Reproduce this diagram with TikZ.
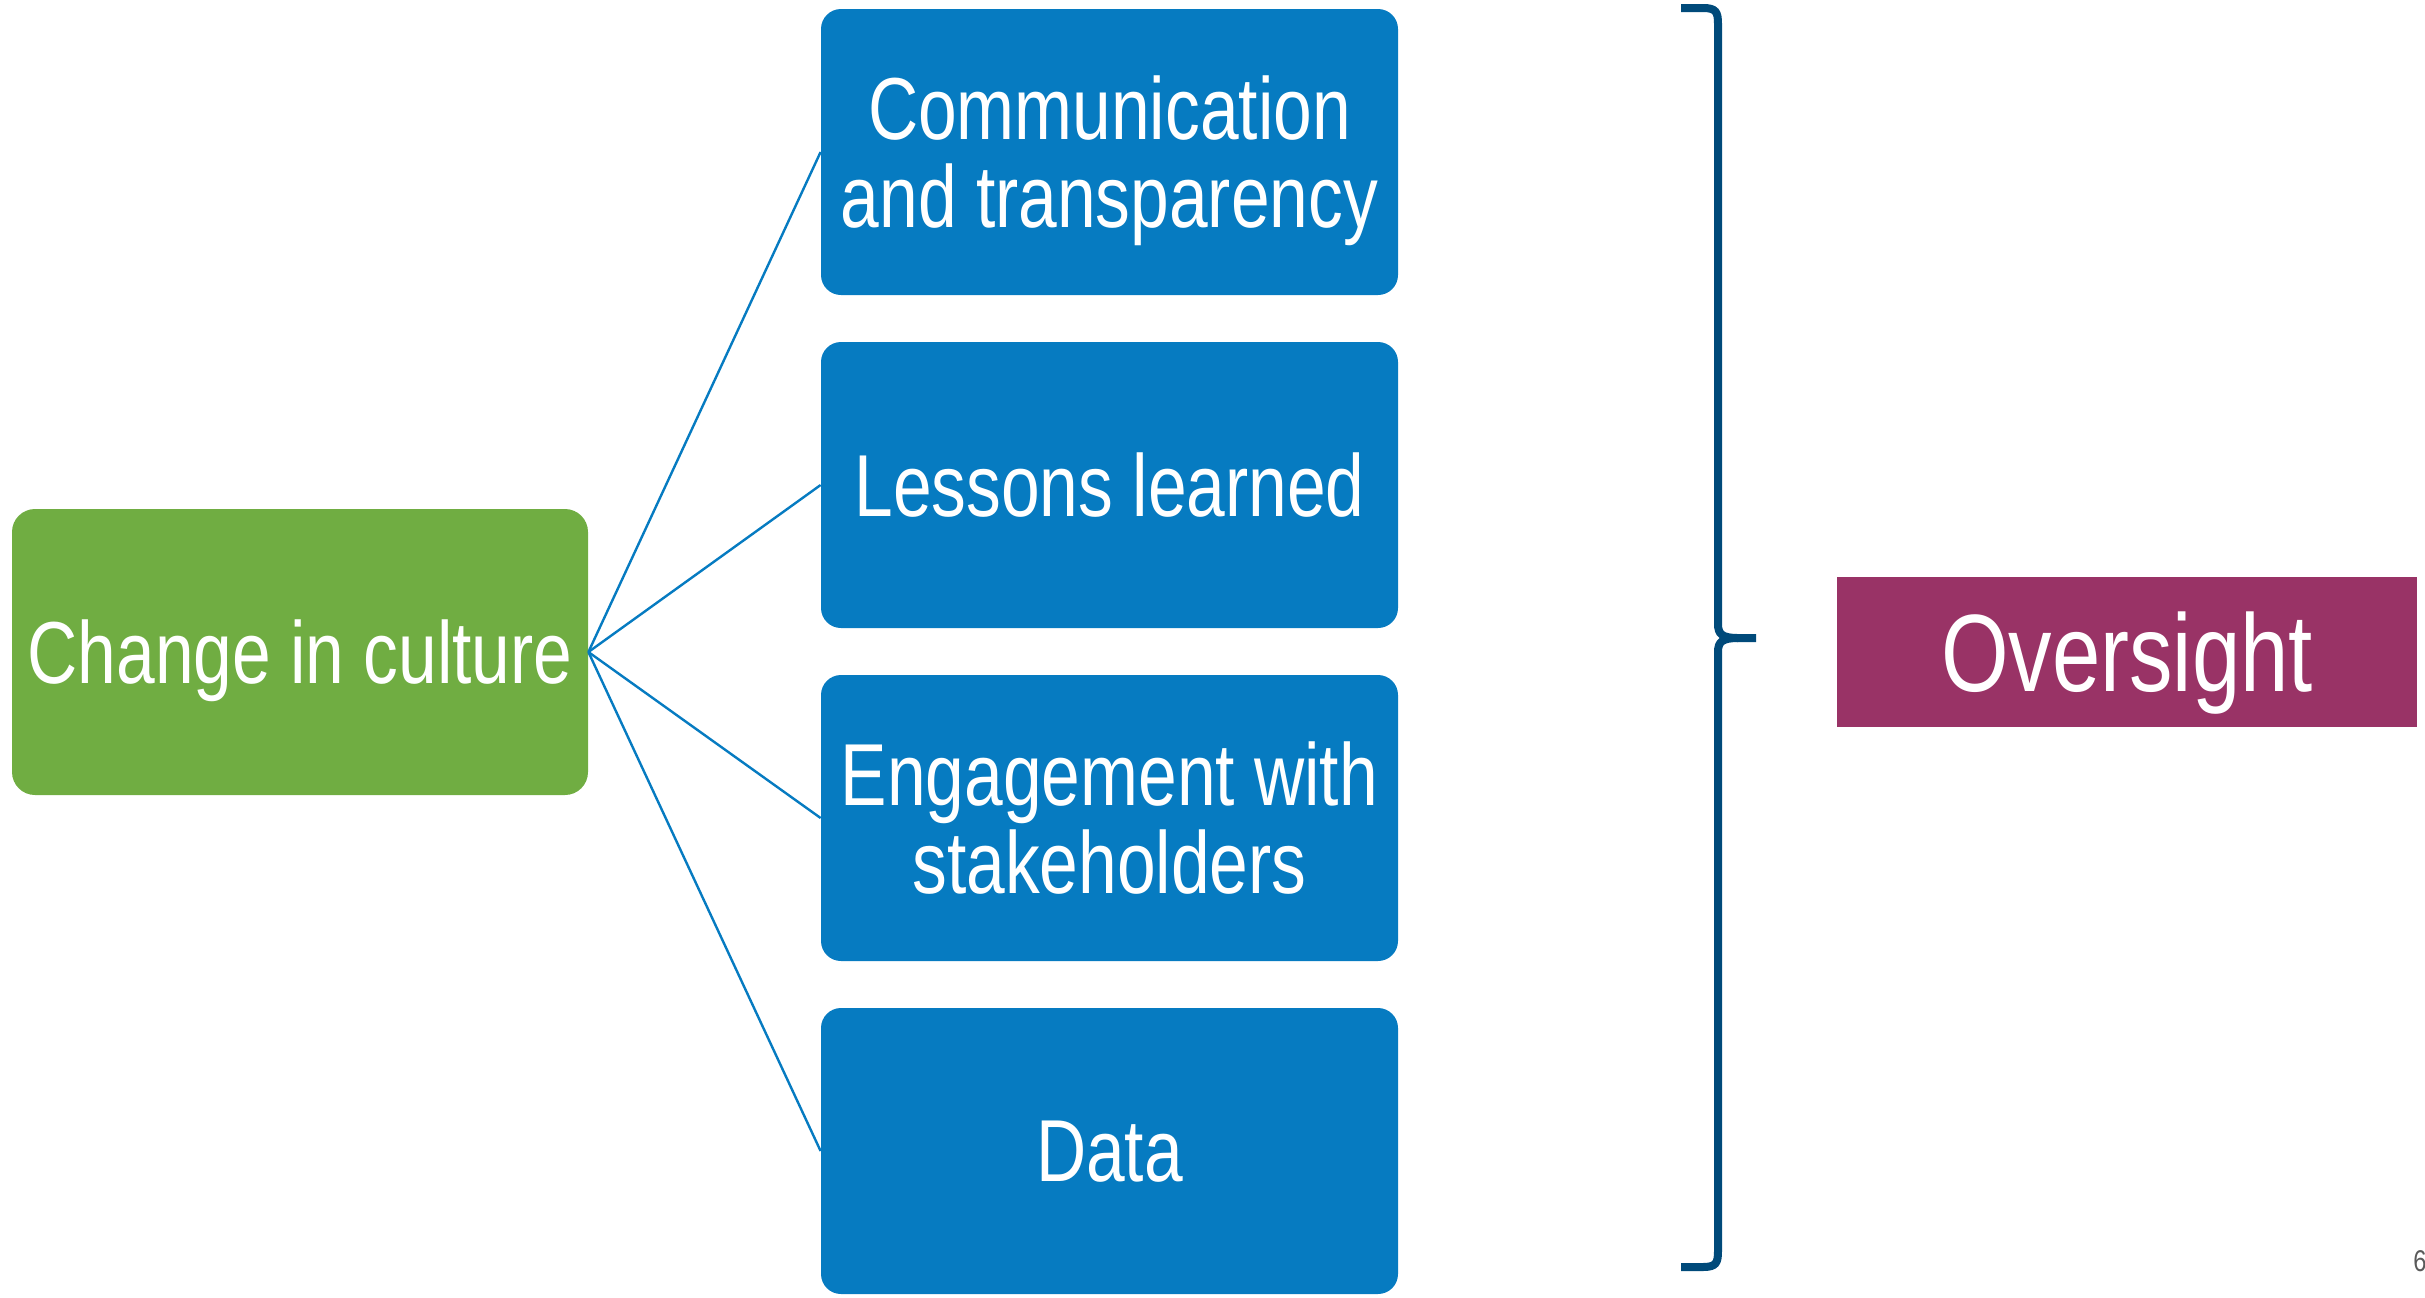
\documentclass[tikz,border=0pt]{standalone}
\usepackage{fontspec}
\setmainfont{Liberation Sans}[FakeStretch=0.79]
\definecolor{boxblue}{RGB}{6,123,193}
\definecolor{boxgreen}{RGB}{112,173,66}
\definecolor{ovpurple}{RGB}{153,51,102}
\definecolor{bracenavy}{RGB}{0,74,122}
\definecolor{pagegray}{RGB}{90,90,90}
\begin{document}
\begin{tikzpicture}[x=0.5pt,y=-0.5pt,
  bigtext/.style={font=\fontsize{44}{44}\selectfont, text=white, align=center, inner sep=0pt, text depth=0pt},
  greenbox/.style={bigtext, fill=boxgreen, rounded corners=11.5pt, minimum width=288pt, minimum height=143pt},
  bluebox/.style={bigtext, fill=boxblue, rounded corners=10pt, minimum width=288.5pt, minimum height=143pt},
  link/.style={draw=boxblue, line width=1.2pt},
  bracestyle/.style={draw=bracenavy, line width=4pt},
  ovbox/.style={fill=ovpurple, text=white, font=\fontsize{55}{55}\selectfont, minimum width=290pt, minimum height=75pt, inner sep=0pt, text depth=0pt}]
\useasboundingbox (0,0) rectangle (2425,1297);

\node[greenbox] (culture) at (300,652) {Change in culture};
\node[bluebox] (comm) at (1109.5,152) {Communication\\and transparency};
\node[bluebox] (lessons) at (1109.5,485) {Lessons learned};
\node[bluebox] (engage) at (1109.5,818) {Engagement with\\stakeholders};
\node[bluebox] (data) at (1109.5,1151) {Data};

\draw[link] (culture.east) -- (comm.west);
\draw[link] (culture.east) -- (lessons.west);
\draw[link] (culture.east) -- (engage.west);
\draw[link] (culture.east) -- (data.west);

\draw[bracestyle] (1681,8) -- (1703,8) .. controls (1716,8) and (1718,12) .. (1718,24)
  -- (1718,624) .. controls (1718,634) and (1722,638) .. (1738,638) -- (1756,638);
\draw[bracestyle] (1681,1267) -- (1703,1267) .. controls (1716,1267) and (1718,1263) .. (1718,1251)
  -- (1718,652) .. controls (1718,642) and (1722,638) .. (1738,638);

\node[ovbox] (oversight) at (2127,652) {Oversight};

\node[font=\fontsize{15}{15}\selectfont, text=pagegray, anchor=east, inner sep=0pt] (pagenum) at (2427,1261) {6};
\end{tikzpicture}
\end{document}
